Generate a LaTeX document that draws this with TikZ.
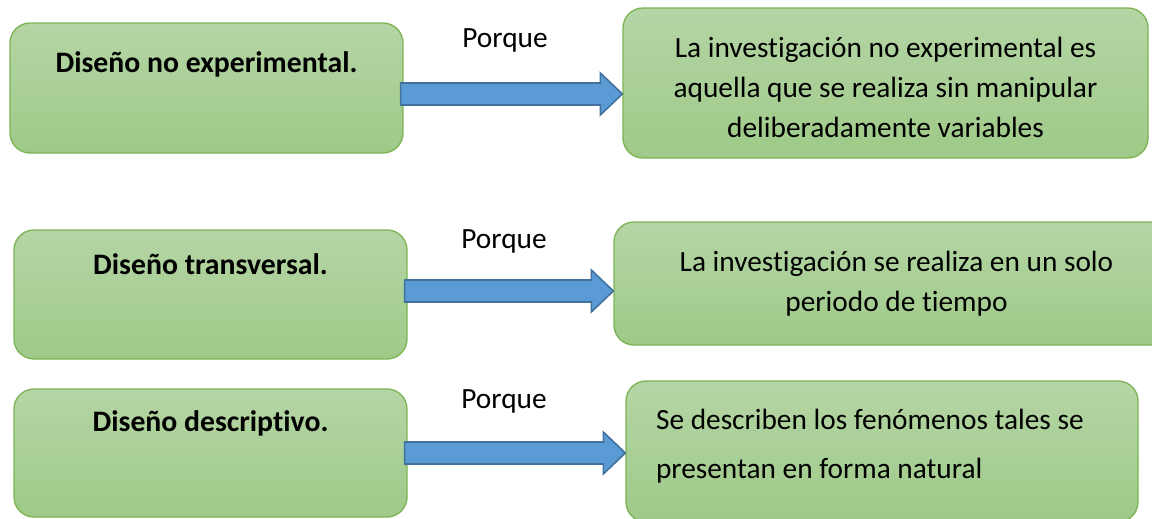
\documentclass[tikz,border=0pt]{standalone}
\usepackage{fontspec}
\setmainfont{Carlito}[Ligatures=NoCommon]
\usetikzlibrary{calc,fit}
\definecolor{verdeArriba}{RGB}{181,213,165}
\definecolor{verdeAbajo}{RGB}{158,202,136}
\definecolor{verdeBorde}{RGB}{125,180,85}
\definecolor{azulRelleno}{RGB}{91,155,213}
\definecolor{azulBorde}{RGB}{65,113,156}

% block arrow: from node, to node, height (px)
\newcommand{\flecha}[3]{%
  \coordinate (fa) at (#1.east |- 0,#3);
  \coordinate (fb) at (#2.west |- 0,#3);
  \draw[bloque] ($(fa)+(-3,-11)$) -- ($(fb)+(-22,-11)$) -- ($(fb)+(-22,-21)$) -- (fb)
    -- ($(fb)+(-22,21)$) -- ($(fb)+(-22,11)$) -- ($(fa)+(-3,11)$) -- cycle;}

\begin{document}
\begin{tikzpicture}[x=0.75pt, y=-0.75pt]
        % px coordinates, origin top left
        \tikzstyle{caja}=[draw=verdeBorde, line width=1pt, rounded corners=15pt, top color=verdeArriba, bottom color=verdeAbajo, inner sep=0pt]
        \tikzstyle{texto}=[font=\fontsize{22}{30}\selectfont, align=center]
        \tikzstyle{titulo}=[font=\fontsize{22.3}{30}\selectfont\bfseries, anchor=base]
        \tikzstyle{bloque}=[draw=azulBorde, line width=1.2pt, fill=azulRelleno, line join=miter]
        \useasboundingbox (0,0) rectangle (1152,518);
        \clip (0,0) rectangle (1152,518);

        \node[caja, fit={(10,23) (403,153)}] (l1) {};
        \node[caja, fit={(623,8) (1148,158)}] (r1) {};
        \node[caja, fit={(14,230) (407,359)}] (l2) {};
        \node[caja, fit={(614,222) (1185,345)}] (r2) {};
        \node[caja, fit={(14,389) (407,517)}] (l3) {};
        \node[caja, fit={(626,381) (1138,522)}] (r3) {};

        \node[titulo] (d1) at ($(l1.north)+(0,50)$) {Diseño no experimental.};
        \node[titulo] (d2) at ($(l2.north)+(0,45)$) {Diseño transversal.};
        \node[titulo] (d3) at ($(l3.north)+(0,43)$) {Diseño descriptivo.};

        \node[texto] (e1) at ($(r1.center)+(0,4)$) {La investigación no experimental es\\aquella que se realiza sin manipular\\deliberadamente variables};
        \node[texto] (e2) at ($(r2.center)+(-3,0)$) {La investigación se realiza en un solo\\periodo de tiempo};
        \node[texto, align=left, anchor=west] (e3) at ($(r3.west)+(26,-5)$) {Se describen los fenómenos tales se\\[6.75pt]presentan en forma natural};

        \flecha{l1}{r1}{94}
        \flecha{l2}{r2}{291}
        \flecha{l3}{r3}{453}

        \node[texto, anchor=base] (p1) at (505,47) {Porque};
        \node[texto, anchor=base] (p2) at (504,248) {Porque};
        \node[texto, anchor=base] (p3) at (504,408) {Porque};
\end{tikzpicture}
\end{document}
